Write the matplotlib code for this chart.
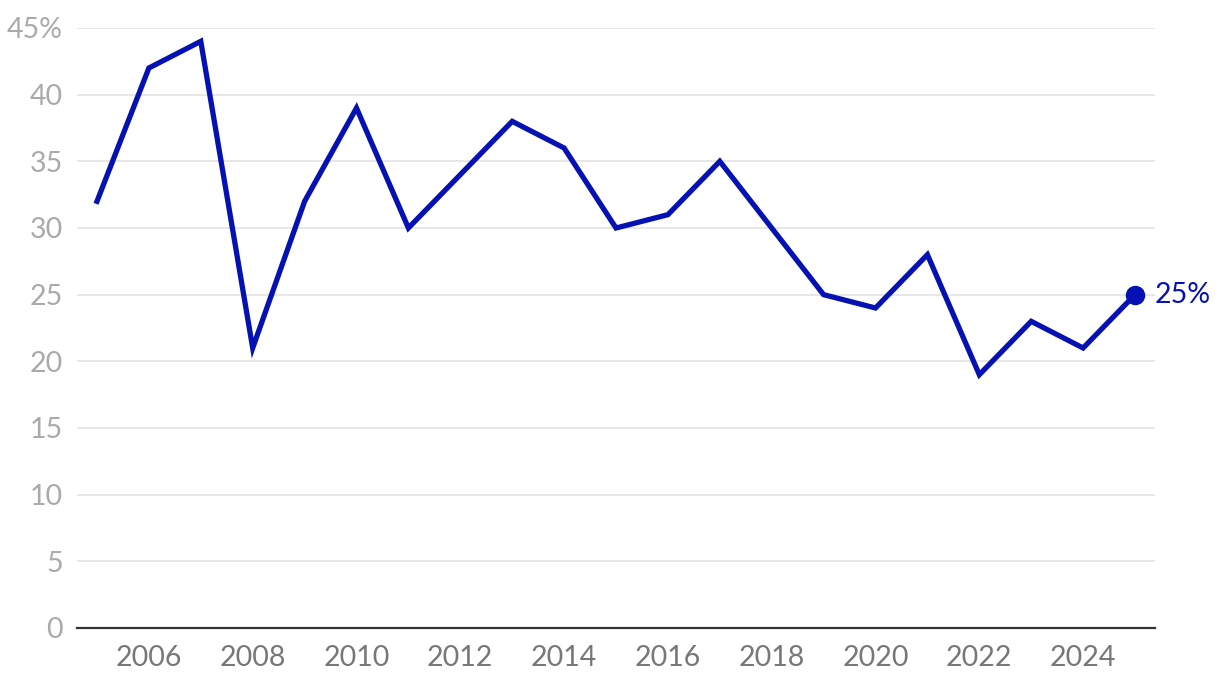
import matplotlib
matplotlib.use("Agg")
import matplotlib.pyplot as plt

years = list(range(2005, 2026))
values = [32, 42, 44, 21, 32, 39, 30, 34, 38, 36, 30, 31, 35, 30, 25, 24, 28, 19, 23, 21, 25]
y_ticks = [0, 5, 10, 15, 20, 25, 30, 35, 40, 45]
y_labels = ["0", "5", "10", "15", "20", "25", "30", "35", "40", "45%"]
x_ticks = list(range(2006, 2026, 2))

blue = "#0511b2"

plt.rcParams["font.family"] = ["Lato", "DejaVu Sans"]

fig = plt.figure(figsize=(12.2, 6.84), dpi=100)
ax = fig.add_axes([77 / 1220, 56 / 684, 1078 / 1220, 600 / 684])

ax.plot(years, values, color=blue, linewidth=3.8, solid_joinstyle="miter", zorder=3)
ax.plot(years[-1], values[-1], "o", color=blue, markersize=13, zorder=4, clip_on=False)
ax.annotate(f"{values[-1]}%", (years[-1], values[-1]), xytext=(14, 0),
            textcoords="offset points", va="center", ha="left",
            color=blue, fontsize=20.5, annotation_clip=False)

ax.set_xlim(2004.615, 2025.385)
ax.set_ylim(0, 45)
ax.set_yticks(y_ticks)
ax.set_yticklabels(y_labels)
ax.set_xticks(x_ticks)
ax.tick_params(axis="y", length=0, pad=10, labelsize=20.5, labelcolor="#aaaaaa")
ax.tick_params(axis="x", length=0, pad=12, labelsize=20.5, labelcolor="#777777")

ax.grid(axis="y", color="#e3e3e3", linewidth=1.2)
ax.set_axisbelow(True)
for side in ["top", "right", "left"]:
    ax.spines[side].set_visible(False)
ax.spines["bottom"].set_color("#333333")
ax.spines["bottom"].set_linewidth(1.6)
ax.spines["bottom"].set_zorder(5)

fig.savefig("out.png", dpi=100)
